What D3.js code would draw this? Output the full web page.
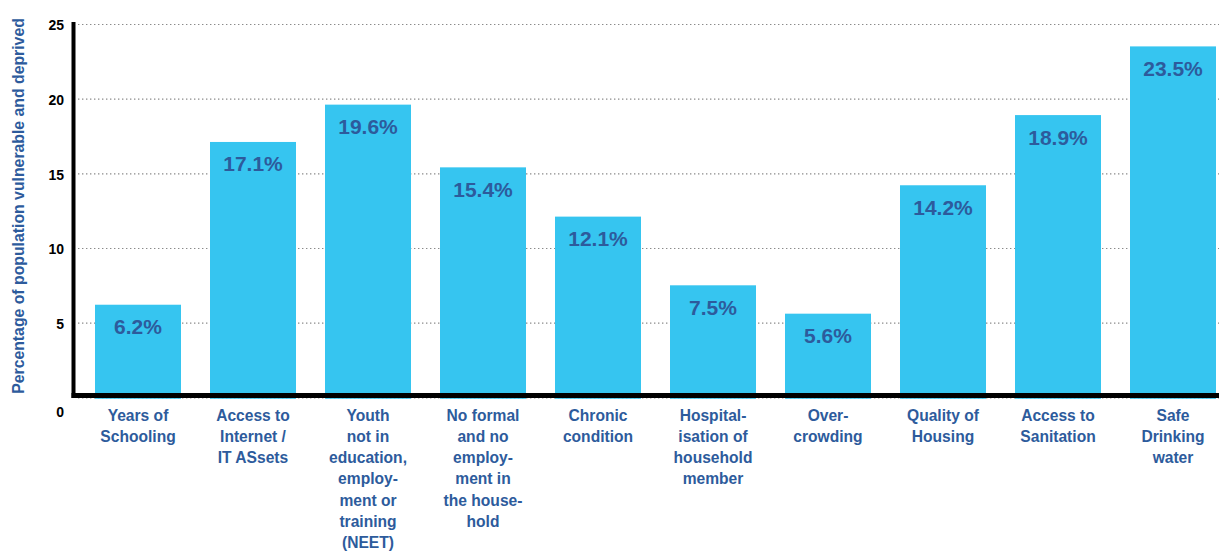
<!DOCTYPE html>
<html>
<head>
<meta charset="utf-8">
<script src="https://cdn.jsdelivr.net/npm/d3@7"></script>
<style>
  html, body { margin: 0; padding: 0; background: #ffffff; }
  svg { display: block; font-family: "Liberation Sans", Arial, Helvetica, sans-serif; }
</style>
</head>
<body>
<svg id="chart" width="1219" height="552"></svg>
<script>
// Share of the population vulnerable and deprived, by indicator
const categories = [
  "Years of Schooling",
  "Access to Internet / IT ASsets",
  "Youth not in education, employment or training (NEET)",
  "No formal and no employment in the household",
  "Chronic condition",
  "Hospitalisation of household member",
  "Overcrowding",
  "Quality of Housing",
  "Access to Sanitation",
  "Safe Drinking water"
];
// wrapped label lines for each category
const categoryLines = [
  ["Years of", "Schooling"],
  ["Access to", "Internet /", "IT ASsets"],
  ["Youth", "not in", "education,", "employ-", "ment or", "training", "(NEET)"],
  ["No formal", "and no", "employ-", "ment in", "the house-", "hold"],
  ["Chronic", "condition"],
  ["Hospital-", "isation of", "household", "member"],
  ["Over-", "crowding"],
  ["Quality of", "Housing"],
  ["Access to", "Sanitation"],
  ["Safe", "Drinking", "water"]
];
const values = [6.2, 17.1, 19.6, 15.4, 12.1, 7.5, 5.6, 14.2, 18.9, 23.5];
const yTicks = [0, 5, 10, 15, 20, 25];
const yTitle = "Percentage of population vulnerable and deprived";

const barColor = "#36c5f0";
const textBlue = "#2d5b9c";

const svg = d3.select("#chart");
const W = 1219, H = 552;

const y = d3.scaleLinear().domain([0, 25]).range([397.3, 24]);
const x = d3.scaleBand()
  .domain(categories)
  .range([75, 1236])
  .paddingInner(29 / 115)
  .paddingOuter(20 / 115);

// dotted gridlines
svg.append("g")
  .selectAll("line")
  .data(yTicks)
  .join("line")
  .attr("x1", 78)
  .attr("x2", W)
  .attr("y1", d => y(d) + 0.5)
  .attr("y2", d => y(d) + 0.5)
  .attr("stroke", "#8a8a8a")
  .attr("stroke-width", 1.2)
  .attr("stroke-dasharray", "1.4,2.6");

// bars
svg.append("g")
  .selectAll("rect")
  .data(values)
  .join("rect")
  .attr("x", (d, i) => x(categories[i]))
  .attr("width", x.bandwidth())
  .attr("y", d => y(d))
  .attr("height", d => y(0) + 1.5 - y(d))
  .attr("fill", barColor);

// value labels inside bars
svg.append("g")
  .selectAll("text")
  .data(values)
  .join("text")
  .attr("x", (d, i) => x(categories[i]) + x.bandwidth() / 2)
  .attr("y", d => y(d) + 29.5)
  .attr("text-anchor", "middle")
  .attr("font-size", 21)
  .attr("font-weight", "bold")
  .attr("fill", textBlue)
  .text(d => d.toFixed(1) + "%");

// axis lines
svg.append("line")
  .attr("x1", 73.5).attr("x2", 73.5)
  .attr("y1", 22).attr("y2", 398)
  .attr("stroke", "#000").attr("stroke-width", 4);
svg.append("line")
  .attr("x1", 71.5).attr("x2", W)
  .attr("y1", 395.5).attr("y2", 395.5)
  .attr("stroke", "#000").attr("stroke-width", 5);

// y tick labels
const yAxis = svg.append("g")
  .attr("transform", "translate(64,0)")
  .call(d3.axisLeft(y).tickValues(yTicks).tickSize(0).tickPadding(0).tickFormat(d3.format("d")));
yAxis.select(".domain").remove();
yAxis.selectAll("text")
  .attr("font-family", "Liberation Sans, Arial, sans-serif")
  .attr("font-size", 14)
  .attr("font-weight", "bold")
  .attr("fill", "#000")
  .attr("dy", d => d === 0 ? "1.4em" : "0.42em");

// category labels
const catG = svg.append("g");
categoryLines.forEach((lines, i) => {
  const t = catG.append("text")
    .attr("x", x(categories[i]) + x.bandwidth() / 2)
    .attr("y", 420.5)
    .attr("text-anchor", "middle")
    .attr("font-size", 15.6)
    .attr("font-weight", "bold")
    .attr("fill", textBlue);
  lines.forEach((ln, j) => {
    t.append("tspan")
      .attr("x", x(categories[i]) + x.bandwidth() / 2)
      .attr("dy", j === 0 ? 0 : 21.3)
      .text(ln);
  });
});

// y axis title
svg.append("text")
  .attr("transform", "translate(23.5,206) rotate(-90)")
  .attr("text-anchor", "middle")
  .attr("font-size", 15.8)
  .attr("font-weight", "bold")
  .attr("fill", textBlue)
  .text(yTitle);
</script>
</body>
</html>
